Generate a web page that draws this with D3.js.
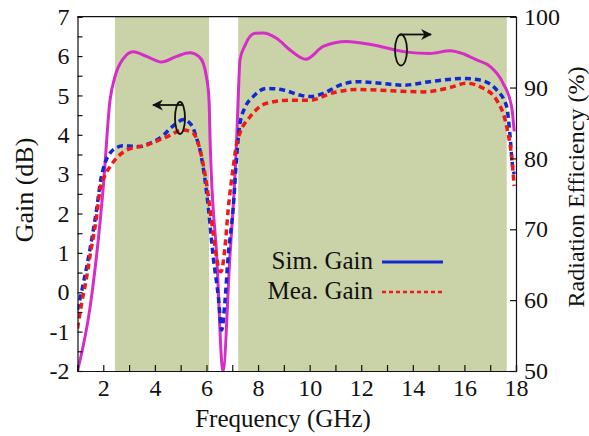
<!DOCTYPE html>
<html><head><meta charset="utf-8">
<script src="https://cdn.jsdelivr.net/npm/d3@7"></script>
<style>
html,body{margin:0;padding:0;background:#fff;}
svg text{font-family:"Liberation Serif","DejaVu Serif","Times New Roman",Times,serif;fill:#111;}
</style></head>
<body>
<svg id="chart" width="589" height="436"></svg>
<script>
// ---- data ----
const bands = [[2.45, 6.1], [7.23, 17.64]];

const effFreq = [1.0, 1.5, 2.0, 2.26, 2.45, 2.78, 3.16, 3.68, 4.26, 4.84, 5.36, 5.7, 5.88, 6.0, 6.1, 6.14, 6.4, 6.64, 6.9, 7.17, 7.23, 7.3, 7.5, 7.88, 8.2, 8.7, 9.24, 9.62, 9.85, 10.53, 11.43, 12.47, 13.76, 14.66, 15.44, 16.0, 16.47, 16.99, 17.5, 17.83, 17.93];
const effVals = [50, 59.3, 76, 88.2, 91.5, 94.1, 95.06, 94.4, 93.6, 94.4, 94.9, 94.4, 93.4, 91.5, 88.2, 82.6, 66, 50, 65.6, 82.6, 88.5, 93.9, 96.0, 97.65, 97.7, 97.0, 95.3, 94.3, 94.0, 95.8, 96.5, 96.0, 95.0, 94.8, 95.2, 94.7, 93.9, 93.0, 90.6, 87.3, 83.8];

const simFreq = [1.0, 1.25, 1.5, 1.75, 1.9, 2.05, 2.26, 2.5, 2.78, 3.1, 3.42, 3.75, 4.07, 4.35, 4.59, 4.85, 5.1, 5.3, 5.49, 5.6, 5.75, 6.07, 6.26, 6.46, 6.59, 6.72, 6.84, 7.04, 7.17, 7.3, 7.5, 7.81, 8.33, 8.98, 9.62, 10.01, 10.53, 11.17, 11.82, 12.72, 13.63, 14.66, 15.95, 16.6, 17.25, 17.64, 17.76, 17.87, 17.93];
const simGain = [-0.45, 0.3, 1.15, 2.15, 2.85, 3.25, 3.53, 3.67, 3.72, 3.71, 3.7, 3.77, 3.87, 4.0, 4.16, 4.3, 4.39, 4.33, 4.16, 3.95, 3.61, 2.17, 0.9, -0.11, -0.96, -0.2, 0.9, 2.17, 3.44, 4.29, 4.7, 4.97, 5.18, 5.14, 5.01, 4.97, 5.05, 5.26, 5.35, 5.31, 5.26, 5.35, 5.43, 5.39, 5.14, 4.71, 4.04, 3.19, 3.0];

const meaFreq = [1.0, 1.16, 1.36, 1.48, 1.74, 1.87, 2.05, 2.26, 2.9, 3.68, 4.46, 5.1, 5.49, 5.68, 6.0, 6.26, 6.46, 6.56, 6.72, 6.84, 7.04, 7.17, 7.3, 7.69, 8.33, 9.24, 10.0, 10.92, 11.82, 13.11, 14.4, 15.44, 16.08, 16.73, 17.25, 17.64, 17.83, 17.93];
const meaGain = [-0.92, -0.28, 0.4, 0.9, 1.92, 2.6, 2.95, 3.19, 3.61, 3.74, 3.95, 4.12, 4.04, 3.78, 2.77, 1.5, 0.65, 0.52, 1.16, 2.09, 3.19, 3.78, 4.05, 4.46, 4.8, 4.88, 4.88, 5.07, 5.15, 5.12, 5.09, 5.2, 5.31, 5.18, 4.88, 4.2, 3.44, 2.7];

const xTicks = [2, 4, 6, 8, 10, 12, 14, 16, 18];
const gainTicks = [-2, -1, 0, 1, 2, 3, 4, 5, 6, 7];
const effTicks = [50, 60, 70, 80, 90, 100];
const legendLabels = ["Sim. Gain", "Mea. Gain"];

// ---- layout ----
const FONT = "'Liberation Serif','DejaVu Serif','Times New Roman',Times,serif";
const L = 77.5, R = 516, T = 16.7, B = 371;
const svg = d3.select("#chart");
const x = d3.scaleLinear().domain([1, 18]).range([L, R]);
const yG = d3.scaleLinear().domain([-2, 7]).range([B, T]);
const yE = d3.scaleLinear().domain([50, 100]).range([B, T]);

const defs = svg.append("defs");
defs.append("clipPath").attr("id", "clip")
  .append("rect").attr("x", L).attr("y", T).attr("width", R - L).attr("height", B - T);

// bands
svg.append("g").selectAll("rect").data(bands).join("rect")
  .attr("x", d => x(d[0])).attr("y", T)
  .attr("width", d => x(d[1]) - x(d[0])).attr("height", B - T)
  .attr("fill", "#c9d3a7");

const plot = svg.append("g").attr("clip-path", "url(#clip)");
const lineFrom = (xs, ys, ysc) => d3.line().curve(d3.curveMonotoneX)
  .x((d, i) => x(xs[i])).y((d, i) => ysc(ys[i]))(xs);

plot.append("path").attr("d", lineFrom(effFreq, effVals, yE))
  .attr("fill", "none").attr("stroke", "#d62cc8").attr("stroke-width", 3);
plot.append("path").attr("d", lineFrom(simFreq, simGain, yG))
  .attr("fill", "none").attr("stroke", "#1428d2").attr("stroke-width", 3.5)
  .attr("stroke-dasharray", "6,4");
plot.append("path").attr("d", lineFrom(meaFreq, meaGain, yG))
  .attr("fill", "none").attr("stroke", "#f01818").attr("stroke-width", 3.5)
  .attr("stroke-dasharray", "6,4");

// axes
const fontSize = 24;
const gx = svg.append("g").attr("transform", `translate(0,${B})`)
  .call(d3.axisBottom(x).tickValues(d3.range(1, 19)).tickSize(-6).tickPadding(8)
    .tickFormat(d => xTicks.includes(d) ? d : ""));
const gl = svg.append("g").attr("transform", `translate(${L},0)`)
  .call(d3.axisLeft(yG).tickValues(d3.range(-2, 7.01, 0.5)).tickSize(-5).tickPadding(8)
    .tickFormat(d => gainTicks.includes(d) ? String(d) : ""));
const gr = svg.append("g").attr("transform", `translate(${R},0)`)
  .call(d3.axisRight(yE).tickValues(effTicks).tickSize(-6).tickPadding(8));
svg.append("line").attr("x1", L).attr("x2", R).attr("y1", T).attr("y2", T)
  .attr("stroke", "#111").attr("stroke-width", 1.2);
[gx, gl, gr].forEach(g => {
  g.attr("font-family", FONT);
  g.select(".domain").attr("stroke", "#111").attr("stroke-width", 1.2);
  g.selectAll(".tick line").attr("stroke", "#111").attr("stroke-width", 1.2);
  g.selectAll("text").attr("font-size", fontSize).style("font-family", FONT).attr("fill", "#111");
});
gx.selectAll("text").attr("dy", "0.72em");

// titles
svg.append("text").attr("x", 283).attr("y", 427).attr("text-anchor", "middle")
  .attr("font-size", 25).style("font-family", FONT).text("Frequency (GHz)");
svg.append("text").attr("transform", "translate(33,190) rotate(-90)").attr("text-anchor", "middle")
  .attr("font-size", 26).style("font-family", FONT).text("Gain (dB)");
svg.append("text").attr("transform", "translate(584,187) rotate(-90)").attr("text-anchor", "middle")
  .attr("font-size", 24).style("font-family", FONT).text("Radiation Efficiency (%)");

// legend
const lg = svg.append("g");
const legendY = [262, 292];
legendLabels.forEach((lab, i) => {
  lg.append("text").attr("x", 373).attr("y", legendY[i] + 7).attr("text-anchor", "end")
    .attr("font-size", 25).style("font-family", FONT).text(lab);
});
lg.append("line").attr("x1", 382).attr("x2", 443).attr("y1", legendY[0]).attr("y2", legendY[0])
  .attr("stroke", "#1428d2").attr("stroke-width", 3);
lg.append("line").attr("x1", 382).attr("x2", 443).attr("y1", legendY[1]).attr("y2", legendY[1])
  .attr("stroke", "#f01818").attr("stroke-width", 2.5).attr("stroke-dasharray", "4,3");

// annotation arrows
defs.append("marker").attr("id", "ah").attr("viewBox", "0 0 10 10").attr("refX", 9).attr("refY", 5)
  .attr("markerWidth", 11).attr("markerHeight", 11).attr("markerUnits", "userSpaceOnUse").attr("orient", "auto")
  .append("path").attr("d", "M0,0 L10,5 L0,10 L3,5 Z").attr("fill", "#111");
svg.append("ellipse").attr("cx", 180).attr("cy", 118).attr("rx", 5).attr("ry", 16)
  .attr("fill", "none").attr("stroke", "#111").attr("stroke-width", 1.8);
svg.append("line").attr("x1", 182).attr("y1", 105).attr("x2", 153).attr("y2", 105)
  .attr("stroke", "#111").attr("stroke-width", 1.8).attr("marker-end", "url(#ah)");
svg.append("ellipse").attr("cx", 401).attr("cy", 50).attr("rx", 6).attr("ry", 15.5)
  .attr("fill", "none").attr("stroke", "#111").attr("stroke-width", 1.8);
svg.append("line").attr("x1", 400).attr("y1", 34.5).attr("x2", 431).attr("y2", 34.5)
  .attr("stroke", "#111").attr("stroke-width", 1.8).attr("marker-end", "url(#ah)");
</script>
</body></html>
